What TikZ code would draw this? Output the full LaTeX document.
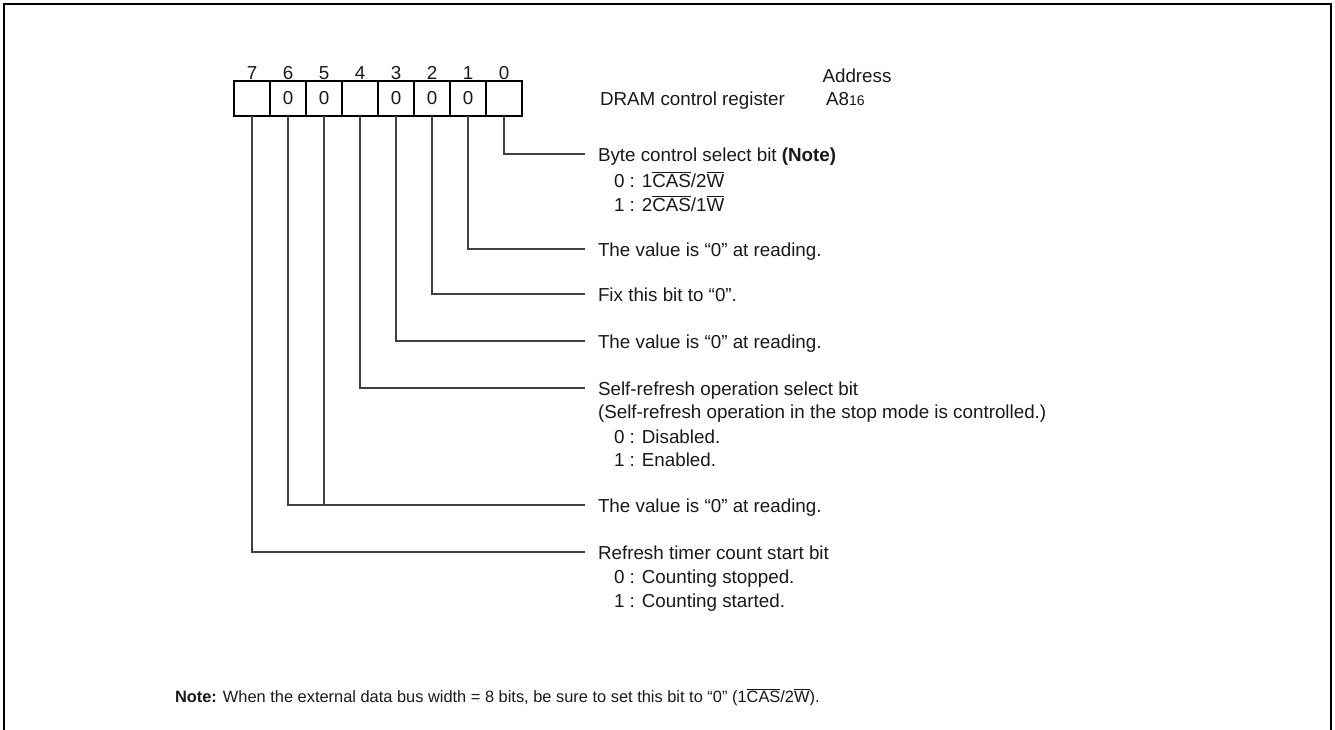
\documentclass[tikz,border=0pt]{standalone}
\usepackage{fontspec}
\setmainfont{Liberation Sans}
\begin{document}
\begin{tikzpicture}[x=1pt,y=-1pt,
  every node/.style={inner sep=0pt, outer sep=0pt, font=\fontsize{18.8}{22}\selectfont, text=black!90},
  cell/.style={draw=black, line width=1.4pt, minimum width=36pt, minimum height=35pt, anchor=center},
  conn/.style={draw=black!75, line width=1.1pt},
  lab/.style={anchor=base west},
  frame/.style={draw=black, line width=2.6pt}
]
\useasboundingbox (0,0) rectangle (1335,729);
\draw[frame] (4,731) -- (4,4) -- (1331,4) -- (1331,731);

% register cells
\foreach \i/\v in {7/{},6/0,5/0,4/{},3/0,2/0,1/0,0/{}}{
  \node[cell] (c\i) at ({504-36*\i},98.5) {\v};
  \node[anchor=base] (n\i) at ({504-36*\i},79) {\i};
}

\node[lab] (reg) at (600,105.5) {DRAM control register};
\node[anchor=base] (addr) at (857,82) {Address};
\node[anchor=base west] (a8) at (826,105.5) {A8{\fontsize{14}{14}\selectfont 16}};

% connector end points
\coordinate (e0) at (585,154);
\coordinate (e1) at (585,249);
\coordinate (e2) at (585,294);
\coordinate (e3) at (585,341);
\coordinate (e4) at (585,388);
\coordinate (e56) at (585,505);
\coordinate (e7) at (585,552);

\draw[conn] (c0.south) |- (e0);
\draw[conn] (c1.south) |- (e1);
\draw[conn] (c2.south) |- (e2);
\draw[conn] (c3.south) |- (e3);
\draw[conn] (c4.south) |- (e4);
\draw[conn] (c6.south) |- (e56);
\draw[conn] (c5.south) -- (c5.south |- e56);
\draw[conn] (c7.south) |- (e7);

% descriptions
\node[lab] (t0) at (598,161) {Byte control select bit \textbf{(Note)}};
\node[lab] (t0a) at (614,187) {0 : 1$\overline{\mbox{CAS}}$/2$\overline{\mbox{W}}$};
\node[lab] (t0b) at (614,211) {1 : 2$\overline{\mbox{CAS}}$/1$\overline{\mbox{W}}$};
\node[lab] (t1) at (598,256) {The value is “0” at reading.};
\node[lab] (t2) at (598,301) {Fix this bit to “0”.};
\node[lab] (t3) at (598,348) {The value is “0” at reading.};
\node[lab] (t4) at (598,395) {Self-refresh operation select bit};
\node[lab] (t4a) at (598,418) {(Self-refresh operation in the stop mode is controlled.)};
\node[lab] (t4b) at (614,443) {0 : Disabled.};
\node[lab] (t4c) at (614,466) {1 : Enabled.};
\node[lab] (t56) at (598,512) {The value is “0” at reading.};
\node[lab] (t7) at (598,559) {Refresh timer count start bit};
\node[lab] (t7a) at (614,583) {0 : Counting stopped.};
\node[lab] (t7b) at (614,607) {1 : Counting started.};

\node[lab, font=\fontsize{16.4}{19}\selectfont] (note) at (175,702) {\textbf{Note:} When the external data bus width = 8 bits, be sure to set this bit to “0” (1$\overline{\mbox{CAS}}$/2$\overline{\mbox{W}}$).};
\end{tikzpicture}
\end{document}
